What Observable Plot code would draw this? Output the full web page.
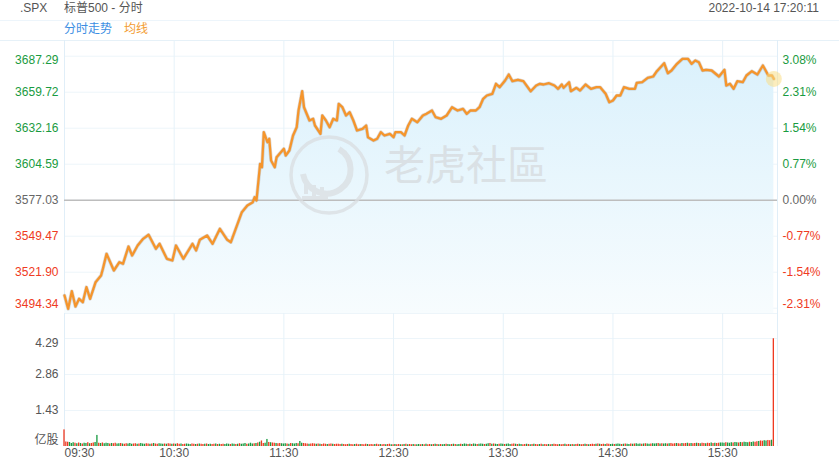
<!DOCTYPE html>
<html><head><meta charset="utf-8">
<script src="https://cdn.jsdelivr.net/npm/d3@7"></script>
<script src="https://cdn.jsdelivr.net/npm/@observablehq/plot@0.6"></script>
<style>
body{margin:0;background:#fff;}
#wrap{position:relative;width:839px;height:469px;overflow:hidden;background:#fff;font-family:"Liberation Sans",Arial,"Noto Sans CJK SC",sans-serif;}
.t{position:absolute;font-size:12px;line-height:14px;white-space:nowrap;}
#band{position:absolute;left:0;top:20px;width:839px;height:19px;border-top:1px solid #edf5fb;border-bottom:1px solid #e6f1f8;}
svg{position:absolute;left:0;}
</style></head><body>
<div id="wrap">
  <div class="t" style="left:20px;top:1px;color:#555">.SPX</div>
  <div class="t" style="left:64px;top:1px;color:#555">标普500 - 分时</div>
  <div class="t" style="right:20px;top:1px;color:#555">2022-10-14 17:20:11</div>
  <div id="band"></div>
  <div class="t" style="left:64px;top:22px;color:#3b8ee3">分时走势</div>
  <div class="t" style="left:124px;top:22px;color:#f39c30">均线</div>
</div>
<script>
// ---------- data ----------
const prevClose = 3577.03;
const priceTicks = [3494.34, 3521.90, 3549.47, 3577.03, 3604.59, 3632.16, 3659.72, 3687.29];
const timeTicks = [0, 60, 120, 180, 240, 300, 360];
const timeLabels = ["09:30", "10:30", "11:30", "12:30", "13:30", "14:30", "15:30"];
const volTicks = [1.43, 2.86, 4.29];
const volUnit = "亿股";

// minutes since 09:30
const minutes = [0,2,4,6,8,10,12,14,17,20,21,23,27,30,32,35,37,40,43,46,50,52,56,59,61,65,68,70,72,74,78,81,85,89,91,94,97,100,103,104,105,107,108,109,111,112,113,115,116,120,121,123,125,127,128,130,131,134,136,137,140,141,143,145,147,149,150,152,154,156,158,160,163,165,166,169,171,173,175,178,180,181,184,186,188,190,193,196,198,201,203,206,209,212,215,218,220,222,225,227,229,231,234,236,238,241,243,245,248,251,255,258,260,262,265,268,270,272,273,276,277,280,282,285,288,291,293,296,298,300,302,304,306,309,312,313,316,319,322,324,328,330,332,335,338,341,343,345,347,349,351,354,358,361,362,364,366,368,371,373,376,379,382,383,385,387,388];
const prices = [3504.06,3493.88,3507.35,3495.64,3501.53,3498.93,3510.42,3501.53,3514.24,3519.37,3524.50,3535.99,3523.20,3529.56,3528.33,3541.58,3534.69,3542.34,3547.47,3550.54,3539.82,3543.65,3532.16,3530.86,3542.34,3532.16,3539.05,3543.65,3538.52,3546.71,3550.00,3543.65,3555.13,3546.71,3544.87,3556.36,3567.84,3572.97,3575.50,3579.33,3576.80,3604.90,3602.30,3629.10,3621.44,3624.04,3607.43,3602.30,3609.95,3616.39,3611.26,3615.08,3626.57,3632.93,3645.71,3660.49,3648.24,3638.06,3639.36,3634.23,3627.87,3641.88,3638.06,3632.93,3639.36,3638.06,3650.84,3648.24,3641.88,3644.41,3638.06,3630.40,3631.70,3634.23,3625.27,3622.74,3624.04,3629.10,3626.57,3627.87,3625.27,3629.10,3629.10,3626.57,3634.23,3639.36,3636.75,3641.88,3643.19,3645.71,3640.58,3639.36,3641.88,3648.24,3645.71,3647.01,3643.19,3645.71,3645.71,3648.24,3654.67,3657.20,3658.50,3666.16,3663.55,3668.68,3673.28,3668.15,3669.22,3668.15,3660.49,3664.85,3666.16,3665.62,3666.62,3664.85,3662.33,3665.62,3663.09,3667.38,3660.49,3663.09,3661.03,3665.62,3662.33,3663.55,3663.55,3658.50,3652.07,3653.37,3657.20,3657.20,3663.55,3662.33,3662.33,3666.92,3667.38,3670.75,3671.75,3675.80,3681.93,3674.27,3676.34,3681.47,3685.30,3685.30,3681.47,3684.00,3682.70,3676.34,3676.88,3676.34,3671.75,3676.88,3664.85,3666.16,3662.33,3668.15,3667.38,3672.51,3675.80,3673.28,3680.17,3677.64,3672.51,3672.51,3669.91];

// per-minute volume, millions of shares (1 亿股 = 100)
const volMillions = [
 66,18,17,16,12,15,13,11,14,12,10,13,12,15,11,12,14,16,44,13,12,14,11,13,12,10,12,11,13,10,
 11,12,10,9,11,10,12,9,10,11,9,10,12,10,9,11,10,9,10,12,10,9,11,10,9,10,9,11,10,9,
 10,9,11,9,10,8,9,10,9,8,10,9,8,9,10,9,8,9,10,8,9,8,9,10,8,9,8,9,8,10,
 9,8,10,9,8,9,11,9,10,12,9,10,13,10,11,12,14,17,22,12,13,28,16,15,14,13,12,11,12,11,
 10,11,10,9,12,11,10,12,11,20,13,12,11,10,9,10,11,10,9,10,9,8,10,9,8,9,10,9,8,9,
 9,8,9,8,7,8,9,8,7,8,9,7,8,8,7,9,8,7,8,7,8,9,7,8,7,8,7,8,9,7,
 7,8,7,8,7,7,8,9,7,8,7,8,7,7,8,7,8,7,9,7,8,7,8,9,8,7,8,7,8,9,
 8,7,8,9,8,7,8,9,8,10,9,8,9,8,10,9,8,9,10,9,8,9,11,12,9,10,9,8,9,10,
 9,8,9,10,8,9,10,9,8,9,8,7,8,9,8,7,8,9,8,7,8,9,7,8,7,8,7,8,9,8,
 7,8,7,8,9,7,8,7,8,7,8,9,8,7,8,9,8,7,8,9,8,9,10,9,8,9,8,10,9,8,
 9,8,9,10,9,8,9,10,9,8,10,9,10,11,9,10,9,10,11,10,9,10,11,10,11,12,10,11,10,11,
 10,11,12,10,11,12,11,10,12,11,12,13,11,12,11,12,13,12,11,13,12,11,13,12,14,12,13,12,13,14,
 14,13,15,14,13,15,14,16,15,14,16,15,17,16,15,17,16,18,17,19,20,22,21,23,22,24,23,25,428
];
// per-minute direction: g = up (green), r = down (red)
const volDir = [
 "rrrggg rgrgrg grgrrg grgrgg grgrrg",
 "grgrrg ggrrgr gggrrg rgrrgg grgrrg",
 "rgrrgr rgggrr grgrrg rggrrg rgrrgg",
 "grggrg rgggrg ggrgrg rrggrg rrgrrg",
 "ggrgrg ggrggr rrgrrr grgrrr grrgrr",
 "rrgrrr grrgrr grrrgr rrgrrg rrgrrg",
 "rgrrgr grgrrg rggrgr grrgrg rgrggr",
 "ggrgrg grgggr grggrg ggrggr grggrg",
 "grgggr rgrggr rgrgrg rrgrgr rgrgrr",
 "rgrrgr rgrgrr grrgrg rrrgrg rrgrrg",
 "grgggr grggrg rgggrg rggrgg grgrgg",
 "rgrrrg rrgrrg rgrrgr grrgrr grgrrg",
 "ggrggg rggrgr gggrgg rrgrrg grrgr"
];

// ---------- styles ----------
const GREEN = "#199b41", RED = "#ef3a22", GREY = "#666", AXG = "#555";
const GRID = "#edf5fa", VGRID = "#e6f2f9";
const FONT = '"Liberation Sans", Arial, "Noto Sans CJK SC", sans-serif';
const W = 839;
const wrap = document.getElementById("wrap");

// ---------- main price panel ----------
const series = minutes.map((m, i) => ({m, p: prices[i]}));
const yMin = 3490.28, yMax = 3699.31;
const tickColor = d => d > prevClose + 1e-6 ? GREEN : d < prevClose - 1e-6 ? RED : GREY;
const pct = d => ((d - prevClose) / prevClose * 100).toFixed(2) + "%";
const mid = priceTicks.slice(1, -1), topT = priceTicks.slice(-1), botT = priceTicks.slice(0, 1);

const main = Plot.plot({
  width: W, height: 273,
  marginTop: 0, marginBottom: 0, marginLeft: 64, marginRight: 62,
  x: {domain: [0, 390], axis: null},
  y: {domain: [yMin, yMax], axis: null},
  color: {type: "identity"},
  style: {fontFamily: FONT, fontSize: "12px", background: "transparent", overflow: "visible"},
  marks: [
    Plot.ruleY(priceTicks, {stroke: GRID}),
    Plot.ruleX(timeTicks.slice(1), {stroke: VGRID}),
    Plot.ruleX([0, 390], {stroke: "#e0eef8"}),
    Plot.areaY(series, {x: "m", y1: () => yMin, y2: "p", fill: "url(#pxGrad)"}),
    Plot.ruleY([prevClose], {stroke: "#bdbdbd", strokeWidth: 1.5}),
    Plot.line(series, {x: "m", y: "p", stroke: "#8d7f6f", strokeOpacity: 0.3, strokeWidth: 3.6}),
    Plot.line(series, {x: "m", y: "p", stroke: "#f5952c", strokeWidth: 2.3}),
    Plot.dot(series.slice(-1), {x: "m", y: "p", r: 8, fill: "#f9df86", fillOpacity: 0.55}),
    // left labels
    Plot.text(mid, {y: d => d, text: d => d.toFixed(2), frameAnchor: "left", textAnchor: "end", dx: -6, fill: tickColor, fontSize: 12}),
    Plot.text(topT, {y: d => d, text: d => d.toFixed(2), frameAnchor: "left", textAnchor: "end", dx: -6, dy: 4, fill: tickColor, fontSize: 12}),
    Plot.text(botT, {y: d => d, text: d => d.toFixed(2), frameAnchor: "left", textAnchor: "end", dx: -6, dy: -4, fill: tickColor, fontSize: 12}),
    // right labels
    Plot.text(mid, {y: d => d, text: pct, frameAnchor: "right", textAnchor: "start", dx: 5, fill: tickColor, fontSize: 12}),
    Plot.text(topT, {y: d => d, text: pct, frameAnchor: "right", textAnchor: "start", dx: 5, dy: 4, fill: tickColor, fontSize: 12}),
    Plot.text(botT, {y: d => d, text: pct, frameAnchor: "right", textAnchor: "start", dx: 5, dy: -4, fill: tickColor, fontSize: 12})
  ]
});
main.style.top = "40px";
wrap.appendChild(main);
const ms = d3.select(main);
ms.insert("defs", ":first-child").html(
  '<linearGradient id="pxGrad" x1="0" y1="0" x2="0" y2="1">' +
  '<stop offset="0" stop-color="#dbf1fc"/><stop offset="1" stop-color="#f7fcfe"/></linearGradient>');
// watermark, below the price line
const wm = ms.insert("g", '[aria-label="line"]').attr("opacity", 0.75);
wm.append("circle").attr("cx", 329).attr("cy", 135).attr("r", 38)
  .attr("fill", "none").attr("stroke", "#dadee1").attr("stroke-width", 3.5);
wm.append("path").attr("d", "M339 109 A24 24 0 1 1 303 134")
  .attr("fill", "none").attr("stroke", "#dadee1").attr("stroke-width", 6);
wm.append("path").attr("d", "M306 141 v13 M314 145 v12 M322 147 v11 M302 158 h26")
  .attr("fill", "none").attr("stroke", "#dadee1").attr("stroke-width", 4);
wm.append("text").attr("x", 384).attr("y", 125).attr("dy", "0.36em")
  .attr("text-anchor", "start")
  .attr("font-family", '"Noto Sans CJK SC", sans-serif').attr("font-size", 41)
  .attr("fill", "#d6dadd").text("老虎社區");

// ---------- volume panel ----------
const dirs = volDir.join("").replace(/ /g, "");
const vols = volMillions.map((v, i) => ({i, v: v / 100, c: dirs[i] === "g" ? GREEN : RED}));
const vTop = 5.283;
const vol = Plot.plot({
  width: W, height: 156,
  marginTop: 0, marginBottom: 23, marginLeft: 64, marginRight: 62,
  x: {domain: [0, 390], axis: null},
  y: {domain: [0, vTop], axis: null},
  color: {type: "identity"},
  style: {fontFamily: FONT, fontSize: "12px", background: "transparent", overflow: "visible"},
  marks: [
    Plot.ruleY([vTop], {stroke: GRID}),
    Plot.ruleY(volTicks, {stroke: GRID}),
    Plot.ruleX(timeTicks.slice(1), {stroke: VGRID}),
    Plot.ruleX([0, 390], {stroke: "#e0eef8"}),
    Plot.rectY(vols, {x1: d => d.i - 0.36, x2: d => d.i + 0.36, y: "v", fill: "c"}),
    Plot.text(volTicks.slice(0, 2), {y: d => d, text: d => d.toFixed(2), frameAnchor: "left", textAnchor: "end", dx: -6, fill: AXG, fontSize: 12}),
    Plot.text(volTicks.slice(2), {y: d => d, text: d => d.toFixed(2), frameAnchor: "left", textAnchor: "end", dx: -6, dy: 5, fill: AXG, fontSize: 12}),
    Plot.text([0], {y: d => d, text: () => volUnit, frameAnchor: "left", textAnchor: "end", dx: -6, dy: -6, fill: AXG, fontSize: 12}),
    Plot.text(timeTicks.slice(0, 1), {x: d => d, text: (d, i) => timeLabels[i], frameAnchor: "bottom", textAnchor: "start", dy: 10, fill: AXG, fontSize: 12}),
    Plot.text(timeTicks.slice(1), {x: d => d, text: (d, i) => timeLabels[i + 1], frameAnchor: "bottom", dy: 10, fill: AXG, fontSize: 12})
  ]
});
vol.style.top = "313px";
wrap.appendChild(vol);
</script>
</body></html>
